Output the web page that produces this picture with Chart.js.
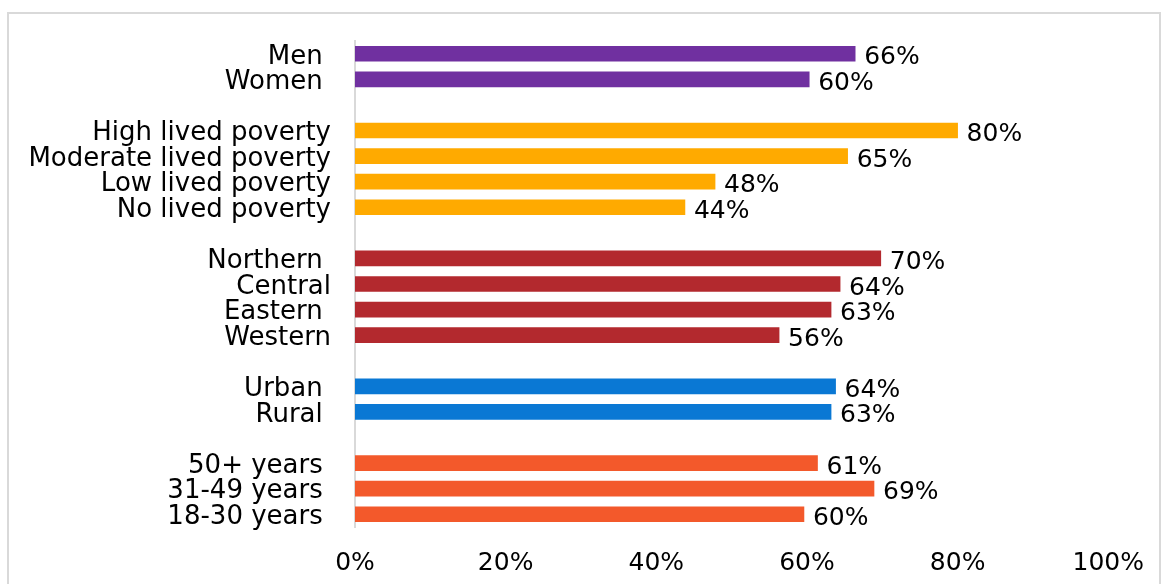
<!DOCTYPE html>
<html>
<head>
<meta charset="utf-8">
<script src="https://cdn.jsdelivr.net/npm/chart.js@4"></script>
<style>
  html, body { margin: 0; padding: 0; background: #fff; }
  #wrap { position: relative; width: 1165px; height: 584px; overflow: hidden; }
  #frame { position: absolute; left: 7px; top: 12px; width: 1154px; height: 620px; border: 2px solid #d9d9d9; box-sizing: border-box; }
  canvas { position: absolute; left: 0; top: 0; }
</style>
</head>
<body>
<div id="wrap">
  <div id="frame"></div>
  <canvas id="c" width="1165" height="584"></canvas>
</div>
<script>
// Categories (empty strings are spacer rows between groups)
const categories = [
  "Men ", "Women ", "",
  "High lived poverty", "Moderate lived poverty", "Low lived poverty", "No lived poverty", "",
  "Northern ", "Central", "Eastern ", "Western", "",
  "Urban ", "Rural ", "",
  "50+ years ", "31-49 years ", "18-30 years "
];
// Percent values (null = spacer)
const values = [
  66.4, 60.3, null,
  80.0, 65.4, 47.8, 43.8, null,
  69.8, 64.4, 63.2, 56.3, null,
  63.8, 63.2, null,
  61.4, 68.9, 59.6
];
// Group of each row (used for colour)
const groups = [
  "gender", "gender", null,
  "poverty", "poverty", "poverty", "poverty", null,
  "region", "region", "region", "region", null,
  "setting", "setting", null,
  "age", "age", "age"
];
const xTicks = [0, 20, 40, 60, 80, 100];

const groupColors = {
  gender: "#7030A0",
  poverty: "#FFAA00",
  region: "#B3292E",
  setting: "#0A78D4",
  age: "#F3592B"
};

const FONT = "'DejaVu Sans', sans-serif";

const valueLabels = {
  id: "valueLabels",
  afterDatasetsDraw(chart) {
    const ctx = chart.ctx;
    const meta = chart.getDatasetMeta(0);
    ctx.save();
    ctx.font = "25px " + FONT;
    ctx.fillStyle = "#000";
    ctx.textAlign = "left";
    ctx.textBaseline = "middle";
    meta.data.forEach((bar, i) => {
      const v = values[i];
      if (v === null || v === undefined) return;
      ctx.fillText(Math.round(v) + "%", bar.x + 9, bar.y + 4);
    });
    ctx.restore();
  }
};

new Chart(document.getElementById("c"), {
  type: "bar",
  data: {
    labels: categories,
    datasets: [{
      data: values,
      backgroundColor: groups.map(g => g ? groupColors[g] : "transparent"),
      barThickness: 15,
      borderWidth: 0
    }]
  },
  options: {
    indexAxis: "y",
    responsive: false,
    animation: false,
    devicePixelRatio: 1,
    layout: { padding: { top: 41, right: 55, bottom: 0, left: 0 } },
    plugins: { legend: { display: false }, tooltip: { enabled: false } },
    scales: {
      x: {
        min: 0, max: 100,
        afterBuildTicks(scale) { scale.ticks = xTicks.map(v => ({ value: v })); },
        afterFit(scale) { scale.height = 57; },
        grid: { display: false, drawTicks: false },
        border: { display: false },
        ticks: {
          padding: 21,
          color: "#000",
          font: { family: FONT, size: 25 },
          maxRotation: 0,
          callback: v => v + "%"
        }
      },
      y: {
        afterFit(scale) { scale.width = 355; },
        grid: { display: false, drawTicks: false },
        border: { display: true, color: "#d9d9d9", width: 2 },
        ticks: {
          padding: 24,
          labelOffset: 3,
          color: "#000",
          autoSkip: false,
          font: { family: FONT, size: 26 }
        }
      }
    }
  },
  plugins: [valueLabels]
});
</script>
</body>
</html>
